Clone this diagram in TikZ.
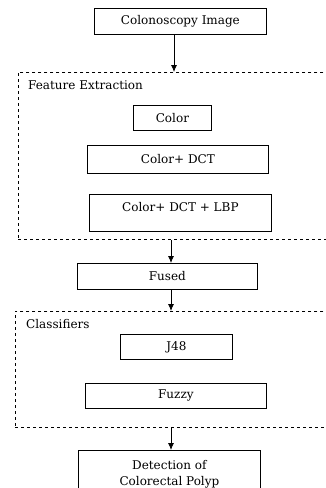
\documentclass[tikz,border=0pt]{standalone}
\usepackage{fontspec}
\setmainfont{DejaVu Serif}
\usepackage{tikz}
\usetikzlibrary{arrows.meta}

\tikzset{
  stage/.style={draw, line width=0.8pt, anchor=north west, inner sep=0pt, font=\fontsize{12}{16}\selectfont},
  group/.style={draw, dashed, line width=0.8pt, anchor=north west, inner sep=0pt},
  title/.style={anchor=west, inner sep=0pt, font=\fontsize{12}{16}\selectfont},
  flow/.style={line width=0.8pt, -{Latex[length=7pt,width=6pt]}},
}

\begin{document}
\begin{tikzpicture}[x=1pt,y=-1pt]
            \useasboundingbox (0,0) rectangle (326,488);
            \clip (0,0) rectangle (326,488);

            \node[group, minimum width=330, minimum height=167] (feat) at (18,72) {};
            \node[group, minimum width=330, minimum height=116] (clsf) at (15,311) {};

            \node[title] (feattitle) at (28,85) {Feature Extraction};
            \node[title] (clsftitle) at (26,324) {Classifiers};

            \node[stage, minimum width=172, minimum height=26] (image) at (94,8) {Colonoscopy Image};
            \node[stage, minimum width=78, minimum height=25] (color) at (133,105) {Color};
            \node[stage, minimum width=181, minimum height=28] (dct) at (87,145) {Color+ DCT};
            \node[stage, minimum width=182, minimum height=37, text height=17pt, text depth=20pt] (lbp) at (89,194) {Color+ DCT + LBP};
            \node[stage, minimum width=180, minimum height=26] (fused) at (77,263) {Fused};
            \node[stage, minimum width=112, minimum height=25] (jfe) at (120,334) {J48};
            \node[stage, minimum width=181, minimum height=25] (fuzzy) at (85,383) {Fuzzy};
            \node[stage, minimum width=182, minimum height=48, align=center] (detect) at (78,450) {Detection of\\Colorectal Polyp};

            \coordinate (upper) at (174,0);
            \coordinate (lower) at (171,0);

            \draw[flow] (image.south -| upper) -- (feat.north -| upper);
            \draw[flow] (feat.south -| lower) -- (fused.north -| lower);
            \draw[flow] (fused.south -| lower) -- (clsf.north -| lower);
            \draw[flow] (clsf.south -| lower) -- (detect.north -| lower);
        \end{tikzpicture}
\end{document}
